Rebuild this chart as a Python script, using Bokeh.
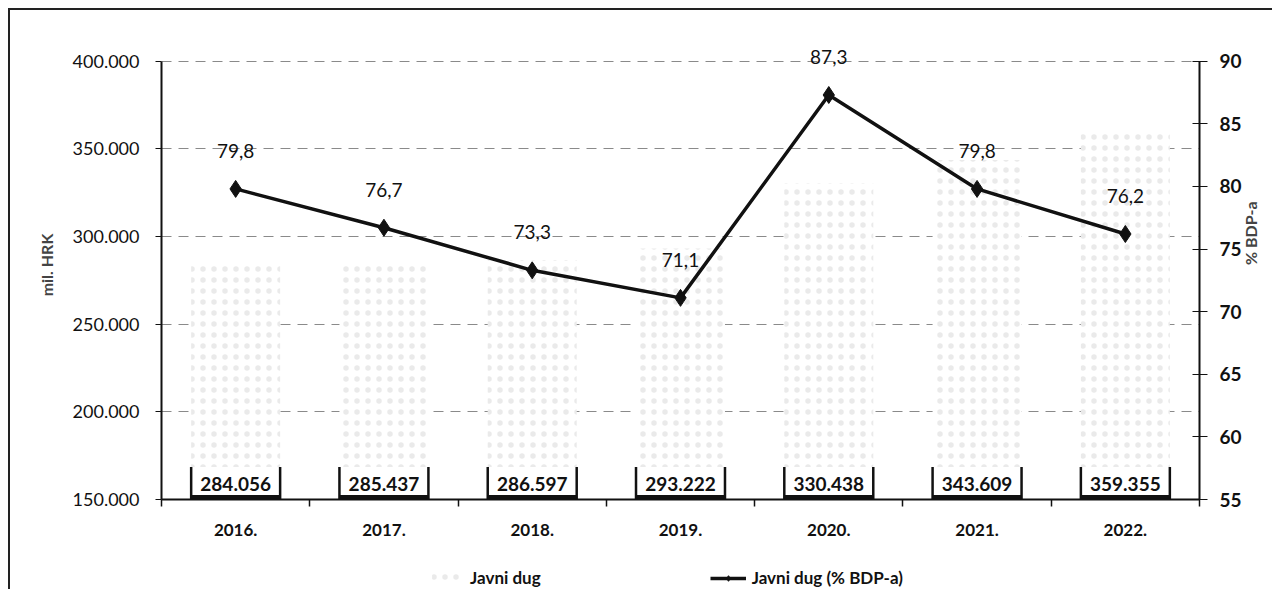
import math
import numpy as np
from bokeh.plotting import figure
from bokeh.layouts import column
from bokeh.models import (Range1d, LinearAxis, FixedTicker, ColumnDataSource,
                          Legend, LegendItem)
from bokeh.embed import file_html
from bokeh.resources import INLINE
from bokeh.core.properties import value

# ---------------- data ----------------
years = ["2016.", "2017.", "2018.", "2019.", "2020.", "2021.", "2022."]
debt = [284056, 285437, 286597, 293222, 330438, 343609, 359355]
debt_labels = ["284.056", "285.437", "286.597", "293.222", "330.438", "343.609", "359.355"]
gdp_share = [79.8, 76.7, 73.3, 71.1, 87.3, 79.8, 76.2]
gdp_labels = ["79,8", "76,7", "73,3", "71,1", "87,3", "79,8", "76,2"]
left_ticks = [150000, 200000, 250000, 300000, 350000, 400000]
left_tick_labels = ["150.000", "200.000", "250.000", "300.000", "350.000", "400.000"]
right_ticks = [55, 60, 65, 70, 75, 80, 85, 90]

FONT = "Lato"
W = 1262
n = len(years)
centers = [i + 0.5 for i in range(n)]
bounds = [float(i) for i in range(n + 1)]
base = left_ticks[0]
bar_w = 0.6
top_pad = 0.07   # head-room above the axes for the value labels

l_lo, l_hi = left_ticks[0], left_ticks[-1]
r_lo, r_hi = right_ticks[0], right_ticks[-1]

src = ColumnDataSource(dict(
    x=centers, debt=debt, dlab=debt_labels, pct=gdp_share, plab=gdp_labels,
    base=[base] * n,
    box_top=[base + 18500] * n,
    strip_top=[base + 2600] * n,
    left_x=[c - bar_w / 2 for c in centers],
    right_x=[c + bar_w / 2 for c in centers],
))

p = figure(width=W, height=539, output_backend="svg", toolbar_location=None,
           x_range=Range1d(0, n),
           y_range=Range1d(l_lo, l_hi + top_pad * (l_hi - l_lo)),
           min_border_left=151, min_border_right=72, min_border_top=20,
           min_border_bottom=50, outline_line_color=None,
           background_fill_color="white", border_fill_color="white")
p.extra_y_ranges = {"pct": Range1d(r_lo, r_hi + top_pad * (r_hi - r_lo))}

# grid
p.xgrid.visible = False
p.ygrid.ticker = FixedTicker(ticks=left_ticks)
p.ygrid.grid_line_color = "#8a8a8a"
p.ygrid.grid_line_dash = "10 7"
p.ygrid.grid_line_width = 1

bar_style = dict(fill_color="white", line_color=None, hatch_pattern=".",
                 hatch_color="#a0a0a0", hatch_scale=11, hatch_weight=1,
                 hatch_alpha=0.22)

# bars
bars = p.vbar(x="x", top="debt", bottom="base", width=bar_w, source=src, **bar_style)
p.vbar(x="x", top="box_top", bottom="base", width=bar_w, source=src,
       fill_color="white", line_color=None)
p.segment(x0="left_x", y0="base", x1="left_x", y1="box_top", source=src,
          line_color="#111", line_width=2.5)
p.segment(x0="right_x", y0="base", x1="right_x", y1="box_top", source=src,
          line_color="#111", line_width=2.5)
p.vbar(x="x", top="strip_top", bottom="base", width=bar_w, source=src,
       fill_color="#111", line_color=None)
p.text(x="x", y="base", text="dlab", source=src, y_offset=-16,
       text_align="center", text_baseline="middle",
       text_font=value(FONT), text_font_style="bold", text_font_size="19px",
       text_color="#111")

# line series on right axis
line_style = dict(line_color="#111", line_width=3.5)
dia_style = dict(marker="diamond", size=17, fill_color="#111", line_color="#111")
p.line(x="x", y="pct", source=src, y_range_name="pct", **line_style)
p.scatter(x="x", y="pct", source=src, y_range_name="pct", **dia_style)
p.text(x="x", y="pct", text="plab", source=src, y_range_name="pct",
       y_offset=-38, text_align="center", text_baseline="middle",
       text_font=value(FONT), text_font_size="19px", text_color="#111")

# left axis
ya = p.yaxis[0]
ya.bounds = (l_lo, l_hi)
ya.ticker = FixedTicker(ticks=left_ticks)
ya.major_label_overrides = {t: l for t, l in zip(left_ticks, left_tick_labels)}
ya.axis_label = "mil. HRK"
ya.axis_label_text_font = FONT
ya.axis_label_text_font_size = "16px"
ya.axis_label_text_font_style = "bold"
ya.axis_label_standoff = 14
ya.major_label_text_font = FONT
ya.major_label_text_font_size = "18px"
ya.major_label_standoff = 16
ya.major_tick_in = 0
ya.major_tick_out = 6
ya.minor_tick_line_color = None
ya.axis_line_width = 2
ya.axis_line_color = "#111"
ya.major_tick_line_color = "#111"
ya.major_label_text_color = "#111"

# right axis
ra = LinearAxis(y_range_name="pct", ticker=FixedTicker(ticks=right_ticks),
                axis_label="% BDP-a", bounds=(r_lo, r_hi))
ra.axis_label_text_font = FONT
ra.axis_label_text_font_size = "16px"
ra.axis_label_text_font_style = "bold"
ra.axis_label_standoff = 6
try:
    ra.axis_label_orientation = math.pi / 2
except Exception:
    pass
ra.major_label_text_font = FONT
ra.major_label_text_font_size = "19px"
ra.major_label_text_font_style = "bold"
ra.major_label_standoff = 12
ra.major_tick_in = 7
ra.major_tick_out = 8
ra.minor_tick_line_color = None
ra.axis_line_width = 2
ra.axis_line_color = "#111"
ra.major_tick_line_color = "#111"
ra.major_label_text_color = "#111"
p.add_layout(ra, "right")

# x axis
xa = p.xaxis[0]
xa.ticker = FixedTicker(ticks=centers, minor_ticks=bounds)
xa.major_label_overrides = {c: y for c, y in zip(centers, years)}
xa.major_tick_line_color = None
xa.minor_tick_line_color = "#111"
xa.minor_tick_line_width = 1.5
xa.minor_tick_in = 0
xa.minor_tick_out = 7
xa.major_label_standoff = 17
xa.major_label_text_font = FONT
xa.major_label_text_font_size = "17px"
xa.major_label_text_font_style = "bold"
xa.major_label_text_color = "#111"
xa.axis_line_width = 2
xa.axis_line_color = "#111"

# legend strip (separate small figure underneath, frame aligned with the chart)
lf = figure(width=W, height=40, output_backend="svg", toolbar_location=None,
            x_range=Range1d(0, 1), y_range=Range1d(0, 1),
            x_axis_location=None, y_axis_location=None,
            min_border=0, outline_line_color=None,
            background_fill_color="white", border_fill_color="white")
lf.grid.visible = False
# legend key renderers (points lie outside the visible range)
lb = lf.vbar(x=[5], top=[5], bottom=[4], width=0.1, **bar_style)
ll = lf.line(x=[5, 6], y=[5, 5], **line_style)
ls = lf.scatter(x=[5], y=[5], **dia_style)
legend = Legend(items=[
    LegendItem(label="Javni dug", renderers=[lb]),
    LegendItem(label="Javni dug (% BDP-a)", renderers=[ll, ls]),
], orientation="horizontal", location=(267, 1),
    label_text_font=FONT, label_text_font_size="17px", label_text_font_style="bold",
    label_text_color="#111", glyph_width=36, glyph_height=14, spacing=169,
    padding=0, margin=0, border_line_color=None, background_fill_alpha=0,
    label_standoff=6)
lf.add_layout(legend, "center")

layout = column(p, lf, spacing=0,
                styles={"border-left": "2px solid #222", "border-top": "2px solid #222",
                        "margin-left": "8px", "margin-top": "8px"})

open("out.html", "w").write(file_html(layout, INLINE))
